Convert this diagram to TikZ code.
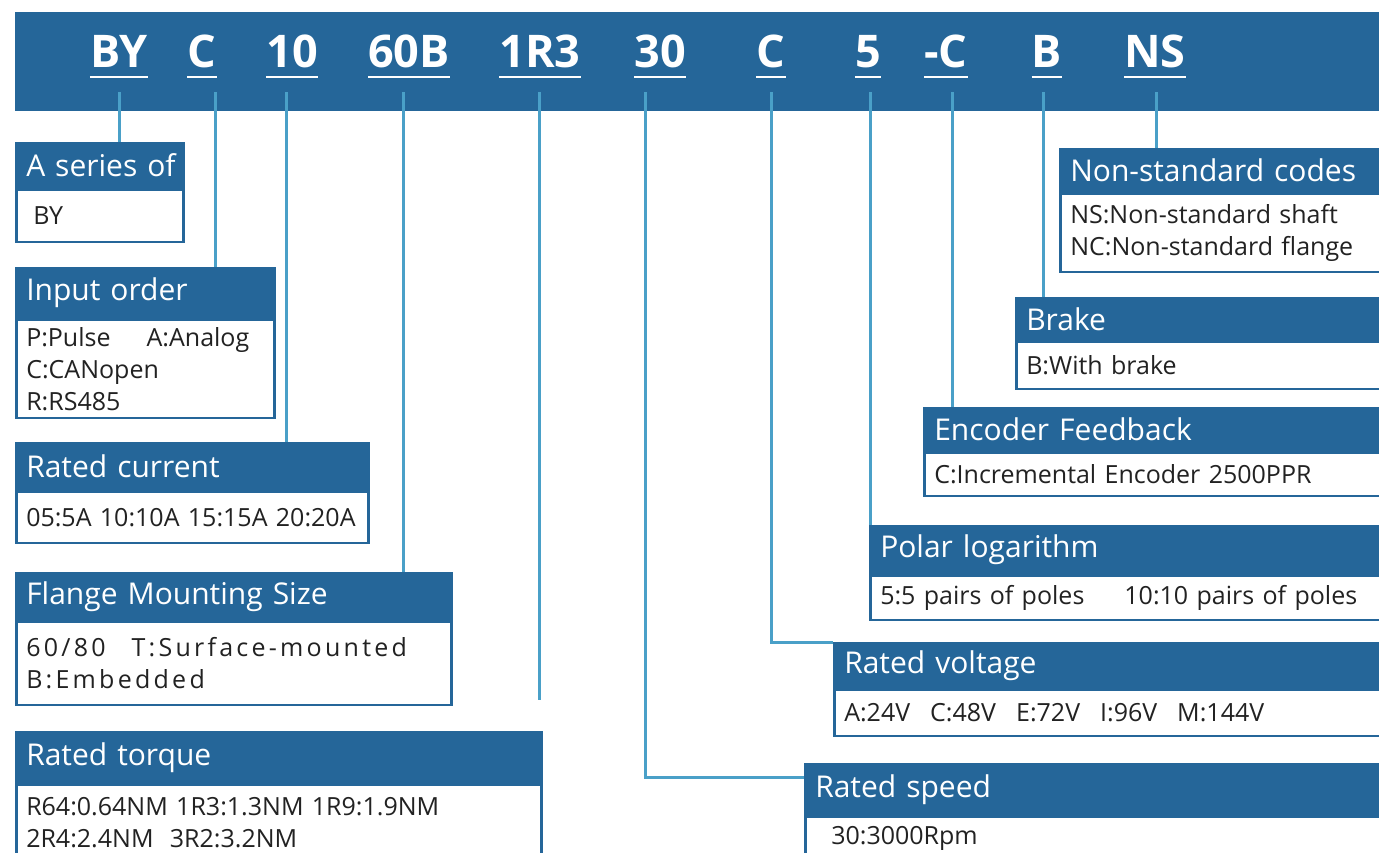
\documentclass[tikz,border=0pt]{standalone}
\usepackage{fontspec}
\setmainfont{Open Sans}
\newfontfamily\spacedfont[LetterSpace=13]{Open Sans}
\usetikzlibrary{positioning, calc}
\definecolor{boxblue}{HTML}{256699}
\definecolor{lineblue}{HTML}{4AA0C8}
\definecolor{bodytext}{HTML}{222222}

% header box with its body below: name, corner, text width, head height, body height, title, body
\newcommand{\infobox}[7]{%
  \node[headbox, text width=#3, minimum height=#4, anchor=north west] (#1) at (#2) {#6};
  \node[bodybox, text width=#3, minimum height=#5, anchor=north west] (#1-body) at (#1.south west) {#7};
}

\begin{document}
\begin{tikzpicture}[
    x=1pt, y=-1pt,
    headbox/.style={rectangle, fill=boxblue, draw=boxblue, line width=2.5pt, inner xsep=10pt, inner ysep=0pt, align=left, text=white, font=\fontsize{30}{34}\selectfont},
    bodybox/.style={rectangle, fill=white, draw=boxblue, line width=2.5pt, inner xsep=10pt, inner ysep=0pt, align=left, text=bodytext, font=\fontsize{25}{32}\selectfont},
    code/.style={inner sep=0pt, anchor=base, text=white, font=\fontsize{45}{50}\selectfont\bfseries},
    conn/.style={draw=lineblue, line width=3pt}
]
\useasboundingbox (0,0) rectangle (1379,852);

% Banner with the code
\fill[boxblue] (15,12) rectangle (1390,111);
\node[code] (by) at (119,67) {BY};
\node[code] (c1) at (202,67) {C};
\node[code] (cur) at (292,67) {10};
\node[code] (fl) at (409,67) {60B};
\node[code] (tq) at (540,67) {1R3};
\node[code] (sp) at (660,67) {30};
\node[code] (c2) at (771,67) {C};
\node[code] (po) at (868,67) {5};
\node[code] (enc) at (946,67) {-C};
\node[code] (br) at (1047,67) {B};
\node[code] (ns) at (1155,67) {NS};
\foreach \n in {by,c1,cur,fl,tq,sp,c2,po,enc,br,ns}
    \draw[white, line width=2.5pt] ([yshift=-10pt]\n.base west) -- ([yshift=-10pt]\n.base east);

% Left column
\infobox{series}{15,142}{147pt}{44pt}{52pt}{\mbox{A series of}}{\hspace{7pt}BY}
\infobox{inorder}{15,267}{238pt}{49pt}{98pt}{Input order}{P:Pulse\hspace{36pt}A:Analog\\C:CANopen\\R:RS485}
\infobox{current}{15,442}{332pt}{46pt}{51pt}{Rated current}{05:5A 10:10A 15:15A 20:20A}
\infobox{flange}{15,572}{415pt}{46pt}{83pt}{Flange Mounting Size}{\spacedfont 60/80\hspace{26pt}T:Surface-mounted\\B:Embedded}
\infobox{torque}{15,731}{505pt}{50pt}{76pt}{Rated torque}{R64:0.64NM 1R3:1.3NM 1R9:1.9NM\\2R4:2.4NM\hspace{8pt} 3R2:3.2NM}

% Right column
\infobox{nonstd}{1059,148}{400pt}{42pt}{78pt}{Non-standard codes}{NS:Non-standard shaft\\NC:Non-standard flange}
\infobox{brake}{1015,297}{400pt}{41pt}{47pt}{Brake}{B:With brake}
\infobox{encoder}{923,407}{500pt}{42pt}{43pt}{Encoder Feedback}{C:Incremental Encoder 2500PPR}
\infobox{polar}{869,525}{560pt}{47pt}{44pt}{Polar logarithm}{5:5 pairs of poles\hspace{40pt}10:10 pairs of poles}
\infobox{voltage}{833,642}{600pt}{44pt}{46pt}{Rated voltage}{A:24V\hspace{20pt}C:48V\hspace{20pt}E:72V\hspace{20pt}I:96V\hspace{20pt}M:144V}
\infobox{speed}{804,763}{620pt}{50pt}{44pt}{Rated speed}{\hspace{16pt}30:3000Rpm}

% Connectors
\coordinate (t-by) at (119,92);
\coordinate (t-c1) at (215,92);
\coordinate (t-cur) at (286,92);
\coordinate (t-fl) at (403,92);
\coordinate (t-tq) at (539,92);
\coordinate (e-tq) at (539,700);
\coordinate (t-sp) at (645,92);
\coordinate (t-c2) at (771,92);
\coordinate (t-po) at (870,92);
\coordinate (t-enc) at (952,92);
\coordinate (t-br) at (1043,92);
\coordinate (t-ns) at (1156,92);
\draw[conn] (t-by) -- (t-by |- series.north);
\draw[conn] (t-c1) -- (t-c1 |- inorder.north);
\draw[conn] (t-cur) -- (t-cur |- current.north);
\draw[conn] (t-fl) -- (t-fl |- flange.north);
\draw[conn] (t-tq) -- (e-tq);
\draw[conn] (t-sp) |- ([yshift=-14pt]speed.north west);
\draw[conn] (t-c2) |- (voltage.north west);
\draw[conn] (t-po) -- (t-po |- polar.north);
\draw[conn] (t-enc) -- (t-enc |- encoder.north);
\draw[conn] (t-br) -- (t-br |- brake.north);
\draw[conn] (t-ns) -- (t-ns |- nonstd.north);
\end{tikzpicture}
\end{document}
